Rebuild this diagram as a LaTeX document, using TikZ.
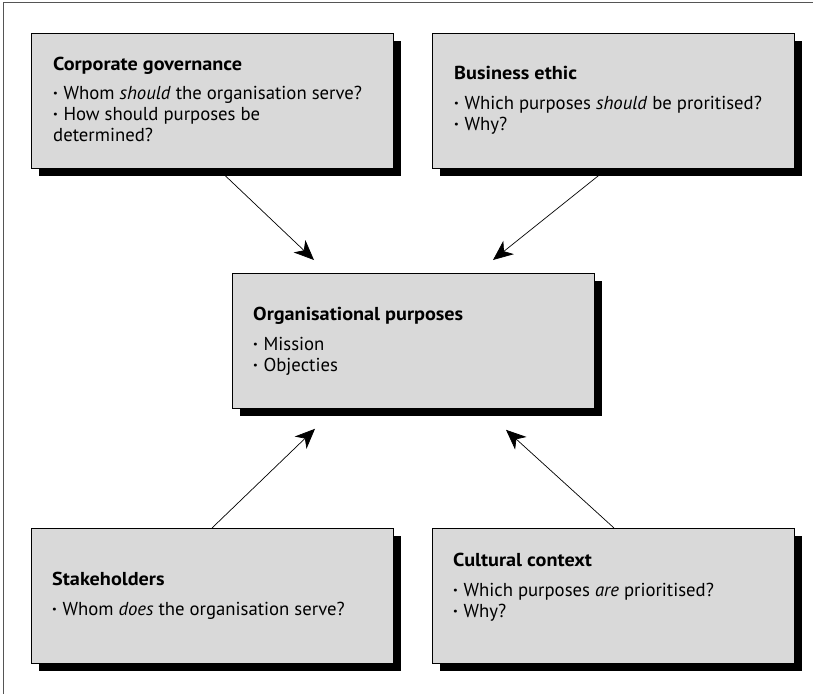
\documentclass[tikz,border=0pt]{standalone}
\usepackage{fontspec}
\setmainfont{PT Sans}
\newfontfamily\ttlfont{PT Sans}[FakeStretch=1.08]
\usetikzlibrary{arrows.meta,shadows,calc}
\definecolor{boxgray}{HTML}{D9D9D9}
\definecolor{framegray}{HTML}{555555}
\newcommand{\bul}{{\bfseries·}\hspace{0.3em}}
\begin{document}
\begin{tikzpicture}[x=1bp,y=-1bp,
  panel/.style={draw=black, line width=0.8bp, fill=boxgray, minimum width=362bp, minimum height=135bp,
    anchor=north west, inner sep=0pt,
    drop shadow={shadow xshift=8bp, shadow yshift=-8bp, fill=black, opacity=1}},
  ttl/.style={anchor=base west, inner sep=0pt, font=\fontsize{18.8}{22}\ttlfont\bfseries},
  txt/.style={anchor=base west, inner sep=0pt, font=\fontsize{18.8}{22}\selectfont},
  arr/.style={-{Stealth[length=20bp,width=17bp,inset=6bp]}, line width=0.7bp}]
\useasboundingbox (0,0) rectangle (813,694);
% frame
\draw[framegray, line width=1bp] (3,694) -- (3,3) -- (813,3);
% boxes
\node[panel] (gov) at (31,33) {};
\node[panel] (eth) at (432,33) {};
\node[panel] (org) at (232,273) {};
\node[panel] (stk) at (31,528) {};
\node[panel] (cul) at (432,528) {};
% texts: corporate governance
\node[ttl] (govT) at (53,71) {Corporate governance};
\node[txt] (govB1) at (53,100) {\bul Whom \textit{should} the organisation serve?};
\node[txt] (govB2) at (53,121) {\bul How should purposes be};
\node[txt] (govB3) at (53,142) {determined?};
% business ethic
\node[ttl] (ethT) at (454,80) {Business ethic};
\node[txt] (ethB1) at (454,110) {\bul Which purposes \textit{should} be proritised?};
\node[txt] (ethB2) at (454,131) {\bul Why?};
% organisational purposes
\node[ttl] (orgT) at (253,320) {Organisational purposes};
\node[txt] (orgB1) at (253,350) {\bul Mission};
\node[txt] (orgB2) at (253,371) {\bul Objecties};
% stakeholders
\node[ttl] (stkT) at (52,585) {Stakeholders};
\node[txt] (stkB1) at (52,615) {\bul Whom \textit{does} the organisation serve?};
% cultural context
\node[ttl] (culT) at (453,566) {Cultural context};
\node[txt] (culB1) at (453,596) {\bul Which purposes \textit{are} prioritised?};
\node[txt] (culB2) at (453,617) {\bul Why?};
% arrow ends
\coordinate (govS) at ($(gov.south west)+(187,0)$);
\coordinate (ethS) at ($(eth.south west)+(175,0)$);
\coordinate (stkS) at ($(stk.north west)+(181,0)$);
\coordinate (culS) at ($(cul.north west)+(182,0)$);
\coordinate (orgA) at ($(org.north west)+(82,-13)$);
\coordinate (orgB) at ($(org.north west)+(261,-13)$);
\coordinate (orgC) at ($(org.south west)+(83,20)$);
\coordinate (orgD) at ($(org.south west)+(274,21)$);
\draw[arr] (govS) -- (orgA);
\draw[arr] (ethS) -- (orgB);
\draw[arr] (stkS) -- (orgC);
\draw[arr] (culS) -- (orgD);
\end{tikzpicture}
\end{document}
